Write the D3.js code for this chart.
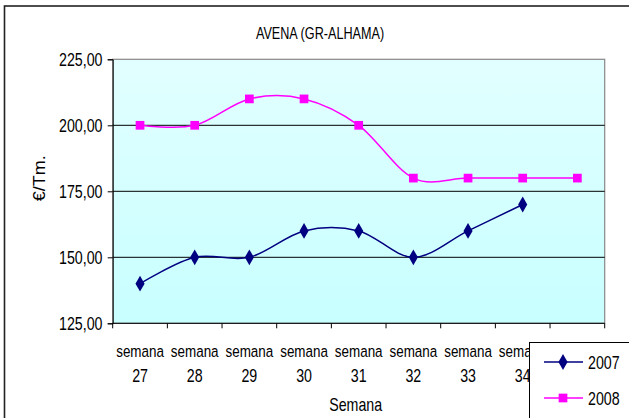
<!DOCTYPE html>
<html>
<head>
<meta charset="utf-8">
<script src="https://cdn.jsdelivr.net/npm/d3@7"></script>
<style>
    body { margin: 0; background: #fff; }
    text { font-family: "Liberation Sans", Arial, sans-serif; fill: #000; }
</style>
</head>
<body>
<div id="chart"></div>
<script>
// data
const weeks = ["27", "28", "29", "30", "31", "32", "33", "34", "35"];
const values2007 = [140, 150, 150, 160, 160, 150, 160, 170];
const values2008 = [200, 200, 210, 210, 200, 180, 180, 180, 180];
const yTicks = [125, 150, 175, 200, 225];
const seriesNames = ["2007", "2008"];
const seriesColors = ["#000080", "#ff00ff"];

const width = 629, height = 418;
const plot = {left: 112.7, right: 604.7, top: 59.3, bottom: 323.3};
const squeeze = 0.79; // the picture is squeezed sideways, so squeeze the text too

var svg = d3.select("#chart").append("svg")
    .attr("width", width).attr("height", height);

// put a text at (tx, ty) and squeeze it horizontally
function narrowText(parent, tx, ty, str, size, anchor) {
    return parent.append("text")
        .attr("transform", "translate(" + tx + "," + ty + ") scale(" + squeeze + ",1)")
        .attr("text-anchor", anchor || "start")
        .attr("font-size", size)
        .text(str);
}

// outer chart frame
svg.append("rect")
    .attr("x", 4.5).attr("y", 6)
    .attr("width", 640).attr("height", 430)
    .attr("fill", "#fff").attr("stroke", "#222").attr("stroke-width", 1.6);

const x = d3.scaleBand().domain(weeks).range([plot.left, plot.right]);
const y = d3.scaleLinear().domain([125, 225]).range([plot.bottom, plot.top]);
const cx = d => x(d) + x.bandwidth() / 2;

// plot area with gradient
var grad = svg.append("defs").append("linearGradient")
    .attr("id", "bg").attr("x1", 0).attr("y1", 0).attr("x2", 0).attr("y2", 1);
grad.append("stop").attr("offset", "0%").attr("stop-color", "#e2ffff");
grad.append("stop").attr("offset", "100%").attr("stop-color", "#c8ffff");

svg.append("rect")
    .attr("x", plot.left).attr("y", plot.top)
    .attr("width", plot.right - plot.left).attr("height", plot.bottom - plot.top)
    .attr("fill", "url(#bg)").attr("stroke", "#888").attr("stroke-width", 1.2);

// gridlines
svg.append("g").selectAll("line")
    .data(yTicks.filter(d => d > 125 && d < 225))
    .join("line")
    .attr("x1", plot.left).attr("x2", plot.right)
    .attr("y1", d => y(d)).attr("y2", d => y(d))
    .attr("stroke", "#000").attr("stroke-width", 1);

// y axis
const yAxis = svg.append("g")
    .attr("transform", "translate(" + plot.left + ",0)")
    .call(d3.axisLeft(y).tickValues(yTicks).tickSize(5).tickFormat(""));
yAxis.select(".domain").attr("stroke", "#000");
yTicks.forEach(v => {
    narrowText(svg, 102.5, y(v) + 6.4, d3.format(".2f")(v).replace(".", ","), 18, "end");
});

// x axis (ticks sit between categories)
const xAxis = svg.append("g")
    .attr("transform", "translate(0," + plot.bottom + ")");
xAxis.append("line")
    .attr("x1", plot.left).attr("x2", plot.right)
    .attr("stroke", "#000");
xAxis.selectAll(".tk")
    .data(weeks.map(d => x(d)).concat([plot.right]))
    .join("line")
    .attr("class", "tk")
    .attr("x1", d => d).attr("x2", d => d)
    .attr("y1", 0).attr("y2", 5)
    .attr("stroke", "#000");

weeks.forEach(w => {
    narrowText(svg, cx(w), 357, "semana", 17, "middle");
    narrowText(svg, cx(w), 381.5, w, 18, "middle");
});

// titles
narrowText(svg, 320, 39, "AVENA (GR-ALHAMA)", 16, "middle");
narrowText(svg, (plot.left + plot.right) / 2 - 3, 410.5, "Semana", 18, "middle");
svg.append("text")
    .attr("transform", "translate(45,178.3) rotate(-90) scale(1,0.9)")
    .attr("text-anchor", "middle")
    .attr("font-size", 18)
    .text("€/Tm.");

// series
const line = d3.line()
    .x((d, i) => cx(weeks[i]))
    .y(d => y(d))
    .curve(d3.curveCardinal.tension(0));

const diamond = d3.symbol().type(d3.symbolDiamond).size(72);
const square = d3.symbol().type(d3.symbolSquare).size(76);
const shapes = [diamond, square];

[values2007, values2008].forEach((vals, s) => {
    svg.append("path")
        .attr("d", line(vals))
        .attr("fill", "none")
        .attr("stroke", seriesColors[s])
        .attr("stroke-width", 1.5);
    svg.append("g").selectAll("path")
        .data(vals)
        .join("path")
        .attr("transform", (d, i) => "translate(" + cx(weeks[i]) + "," + y(d) + ")")
        .attr("d", shapes[s]())
        .attr("fill", seriesColors[s]);
});

// legend (covers the last category label, like the original)
const legend = svg.append("g");
legend.append("rect")
    .attr("x", 529.5).attr("y", 342.5)
    .attr("width", 110).attr("height", 100)
    .attr("fill", "#fff").attr("stroke", "#000").attr("stroke-width", 1);

const legendRows = [362, 398];
seriesNames.forEach((name, s) => {
    const yy = legendRows[s];
    legend.append("line")
        .attr("x1", 544).attr("x2", 583)
        .attr("y1", yy).attr("y2", yy)
        .attr("stroke", seriesColors[s]).attr("stroke-width", 1.5);
    legend.append("path")
        .attr("transform", "translate(563," + yy + ")")
        .attr("d", shapes[s]())
        .attr("fill", seriesColors[s]);
    narrowText(legend, 588, yy + 6.5, name, 18, "start");
});
</script>
</body>
</html>
